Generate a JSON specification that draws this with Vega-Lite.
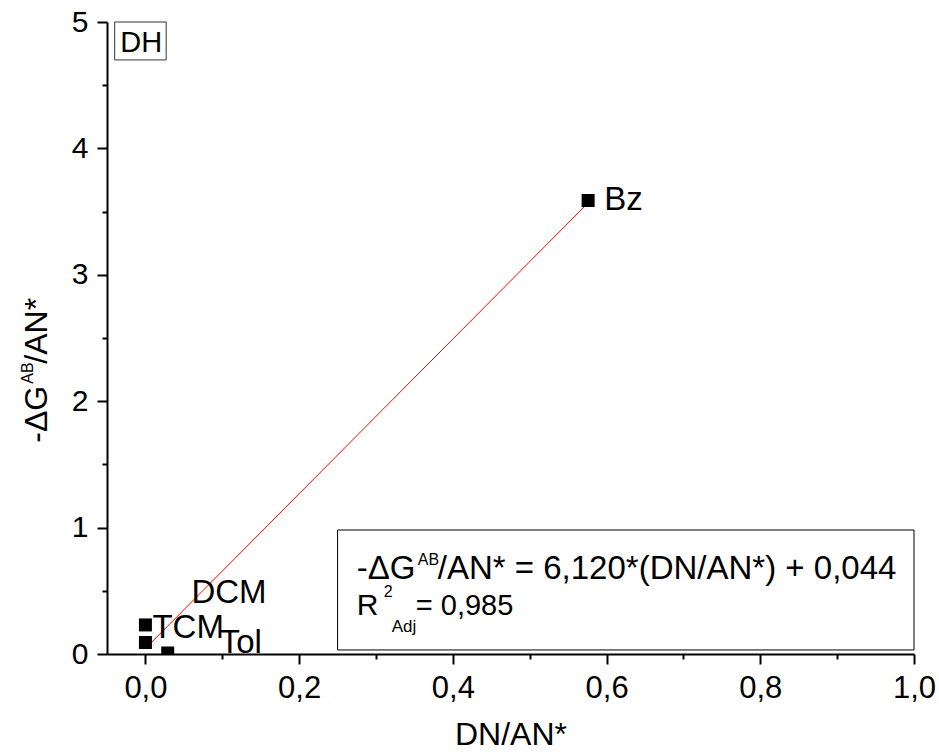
{
  "$schema": "https://vega.github.io/schema/vega-lite/v6.json",
  "width": 807,
  "height": 632,
  "autosize": "none",
  "padding": {"left": 107, "top": 22, "right": 25, "bottom": 98},
  "background": "white",
  "config": {"view": {"stroke": null}, "font": "Liberation Sans", "text": {"font": "Liberation Sans", "color": "black"}},
  "datasets": {
    "solvents": [
      {"solvent": "Bz", "dn": 0.576, "g": 3.588},
      {"solvent": "DCM", "dn": 0.0, "g": 0.23},
      {"solvent": "TCM", "dn": 0.0, "g": 0.091},
      {"solvent": "Tol", "dn": 0.029, "g": 0.008}
    ],
    "fit": [
      {"dn": 0.0, "g": 0.044},
      {"dn": 0.576, "g": 3.569}
    ],
    "one": [{}]
  },
  "layer": [
    {
      "data": {"name": "fit"},
      "mark": {"type": "line", "color": "#ff0000", "strokeWidth": 1},
      "encoding": {
        "x": {
          "field": "dn", "type": "quantitative",
          "scale": {"domain": [-0.05, 1.0], "nice": false, "zero": false},
          "axis": {
            "title": "DN/AN*",
            "values": [0, 0.1, 0.2, 0.3, 0.4, 0.5, 0.6, 0.7, 0.8, 0.9, 1.0],
            "labelExpr": "abs(datum.value*5 - round(datum.value*5)) < 0.001 ? replace(format(datum.value, '.1f'), '.', ',') : ''",
            "tickSize": {"condition": {"test": "abs(datum.value*5 - round(datum.value*5)) < 0.001", "value": 10}, "value": 5},
            "tickWidth": 2, "tickColor": "black",
            "domainWidth": 2, "domainColor": "black",
            "labelColor": "black", "labelFontSize": 31, "labelFont": "Liberation Sans", "labelPadding": 9,
            "labelFlush": false, "labelOverlap": false,
            "titleFontSize": 32, "titleFont": "Liberation Sans", "titleFontWeight": "normal", "titleColor": "black",
            "titleY": 90, "titleBaseline": "alphabetic",
            "grid": false, "zindex": 1
          }
        },
        "y": {
          "field": "g", "type": "quantitative",
          "scale": {"domain": [0, 5], "nice": false, "zero": false},
          "axis": {
            "title": null,
            "values": [0, 0.5, 1, 1.5, 2, 2.5, 3, 3.5, 4, 4.5, 5],
            "labelExpr": "abs(datum.value - round(datum.value)) < 0.001 ? format(datum.value, 'd') : ''",
            "tickSize": {"condition": {"test": "abs(datum.value - round(datum.value)) < 0.001", "value": 10}, "value": 5},
            "tickWidth": 2, "tickColor": "black",
            "domainWidth": 2, "domainColor": "black",
            "labelColor": "black", "labelFontSize": 30, "labelFont": "Liberation Sans", "labelPadding": 9,
            "labelFlush": false, "labelOverlap": false,
            "grid": false, "zindex": 1
          }
        }
      }
    },
    {
      "data": {"name": "solvents"},
      "mark": {"type": "square", "size": 169, "color": "black", "opacity": 1, "clip": true},
      "encoding": {
        "x": {"field": "dn", "type": "quantitative", "scale": {"domain": [-0.05, 1.0], "nice": false, "zero": false}},
        "y": {"field": "g", "type": "quantitative", "scale": {"domain": [0, 5], "nice": false, "zero": false}}
      }
    },
    {
      "data": {"name": "solvents"},
      "transform": [{"filter": "datum.solvent == 'Bz'"}],
      "mark": {"type": "text", "fontSize": 33, "align": "left", "baseline": "middle", "dx": 16, "dy": 0},
      "encoding": {
        "x": {"field": "dn", "type": "quantitative", "scale": {"domain": [-0.05, 1.0], "nice": false, "zero": false}},
        "y": {"field": "g", "type": "quantitative", "scale": {"domain": [0, 5], "nice": false, "zero": false}},
        "text": {"field": "solvent"}
      }
    },
    {
      "data": {"name": "solvents"},
      "transform": [{"filter": "datum.solvent == 'DCM'"}],
      "mark": {"type": "text", "fontSize": 33, "align": "left", "baseline": "middle", "dx": 46, "dy": -32},
      "encoding": {
        "x": {"field": "dn", "type": "quantitative", "scale": {"domain": [-0.05, 1.0], "nice": false, "zero": false}},
        "y": {"field": "g", "type": "quantitative", "scale": {"domain": [0, 5], "nice": false, "zero": false}},
        "text": {"field": "solvent"}
      }
    },
    {
      "data": {"name": "solvents"},
      "transform": [{"filter": "datum.solvent == 'TCM'"}],
      "mark": {"type": "text", "fontSize": 33, "align": "left", "baseline": "middle", "dx": 7, "dy": -14},
      "encoding": {
        "x": {"field": "dn", "type": "quantitative", "scale": {"domain": [-0.05, 1.0], "nice": false, "zero": false}},
        "y": {"field": "g", "type": "quantitative", "scale": {"domain": [0, 5], "nice": false, "zero": false}},
        "text": {"field": "solvent"}
      }
    },
    {
      "data": {"name": "solvents"},
      "transform": [{"filter": "datum.solvent == 'Tol'"}],
      "mark": {"type": "text", "fontSize": 33, "align": "left", "baseline": "middle", "dx": 52, "dy": -10},
      "encoding": {
        "x": {"field": "dn", "type": "quantitative", "scale": {"domain": [-0.05, 1.0], "nice": false, "zero": false}},
        "y": {"field": "g", "type": "quantitative", "scale": {"domain": [0, 5], "nice": false, "zero": false}},
        "text": {"field": "solvent"}
      }
    },
    {
      "data": {"name": "one"},
      "mark": {"type": "rect", "fill": "white", "stroke": "black", "strokeWidth": 1},
      "encoding": {
        "x": {"datum": 0.25, "type": "quantitative", "scale": {"domain": [-0.05, 1.0], "nice": false, "zero": false}},
        "x2": {"datum": 1.0},
        "y": {"datum": 0.981, "type": "quantitative", "scale": {"domain": [0, 5], "nice": false, "zero": false}},
        "y2": {"datum": 0.032}
      }
    },
    {
      "data": {"name": "one"},
      "mark": {"type": "text", "fontSize": 33, "align": "left", "baseline": "alphabetic", "text": "-ΔG"},
      "encoding": {
        "x": {"datum": 0.275, "type": "quantitative", "scale": {"domain": [-0.05, 1.0], "nice": false, "zero": false}},
        "y": {"datum": 0.593, "type": "quantitative", "scale": {"domain": [0, 5], "nice": false, "zero": false}}
      }
    },
    {
      "data": {"name": "one"},
      "mark": {"type": "text", "fontSize": 16, "align": "left", "baseline": "alphabetic", "text": "AB", "dx": 61, "dy": -14},
      "encoding": {
        "x": {"datum": 0.275, "type": "quantitative", "scale": {"domain": [-0.05, 1.0], "nice": false, "zero": false}},
        "y": {"datum": 0.593, "type": "quantitative", "scale": {"domain": [0, 5], "nice": false, "zero": false}}
      }
    },
    {
      "data": {"name": "one"},
      "mark": {"type": "text", "fontSize": 33, "align": "left", "baseline": "alphabetic", "text": "/AN* = 6,120*(DN/AN*) + 0,044", "dx": 81},
      "encoding": {
        "x": {"datum": 0.275, "type": "quantitative", "scale": {"domain": [-0.05, 1.0], "nice": false, "zero": false}},
        "y": {"datum": 0.593, "type": "quantitative", "scale": {"domain": [0, 5], "nice": false, "zero": false}}
      }
    },
    {
      "data": {"name": "one"},
      "mark": {"type": "text", "fontSize": 30, "align": "left", "baseline": "alphabetic", "text": "R"},
      "encoding": {
        "x": {"datum": 0.275, "type": "quantitative", "scale": {"domain": [-0.05, 1.0], "nice": false, "zero": false}},
        "y": {"datum": 0.309, "type": "quantitative", "scale": {"domain": [0, 5], "nice": false, "zero": false}}
      }
    },
    {
      "data": {"name": "one"},
      "mark": {"type": "text", "fontSize": 16, "align": "left", "baseline": "alphabetic", "text": "2", "dx": 27, "dy": -18},
      "encoding": {
        "x": {"datum": 0.275, "type": "quantitative", "scale": {"domain": [-0.05, 1.0], "nice": false, "zero": false}},
        "y": {"datum": 0.309, "type": "quantitative", "scale": {"domain": [0, 5], "nice": false, "zero": false}}
      }
    },
    {
      "data": {"name": "one"},
      "mark": {"type": "text", "fontSize": 17, "align": "left", "baseline": "alphabetic", "text": "Adj", "dx": 35, "dy": 17},
      "encoding": {
        "x": {"datum": 0.275, "type": "quantitative", "scale": {"domain": [-0.05, 1.0], "nice": false, "zero": false}},
        "y": {"datum": 0.309, "type": "quantitative", "scale": {"domain": [0, 5], "nice": false, "zero": false}}
      }
    },
    {
      "data": {"name": "one"},
      "mark": {"type": "text", "fontSize": 29, "align": "left", "baseline": "alphabetic", "text": "= 0,985", "dx": 59},
      "encoding": {
        "x": {"datum": 0.275, "type": "quantitative", "scale": {"domain": [-0.05, 1.0], "nice": false, "zero": false}},
        "y": {"datum": 0.309, "type": "quantitative", "scale": {"domain": [0, 5], "nice": false, "zero": false}}
      }
    },
    {
      "data": {"name": "one"},
      "mark": {"type": "rect", "fill": "white", "stroke": "#333333", "strokeWidth": 1},
      "encoding": {
        "x": {"datum": -0.040, "type": "quantitative", "scale": {"domain": [-0.05, 1.0], "nice": false, "zero": false}},
        "x2": {"datum": 0.027},
        "y": {"datum": 5.0, "type": "quantitative", "scale": {"domain": [0, 5], "nice": false, "zero": false}},
        "y2": {"datum": 4.70}
      }
    },
    {
      "data": {"name": "one"},
      "mark": {"type": "text", "fontSize": 29, "align": "left", "baseline": "alphabetic", "text": "DH"},
      "encoding": {
        "x": {"datum": -0.0326, "type": "quantitative", "scale": {"domain": [-0.05, 1.0], "nice": false, "zero": false}},
        "y": {"datum": 4.763, "type": "quantitative", "scale": {"domain": [0, 5], "nice": false, "zero": false}}
      }
    },
    {
      "data": {"name": "one"},
      "mark": {"type": "text", "fontSize": 32, "align": "left", "baseline": "alphabetic", "angle": 270, "text": "-ΔG"},
      "encoding": {
        "x": {"datum": -0.1276, "type": "quantitative", "scale": {"domain": [-0.05, 1.0], "nice": false, "zero": false}},
        "y": {"datum": 1.672, "type": "quantitative", "scale": {"domain": [0, 5], "nice": false, "zero": false}}
      }
    },
    {
      "data": {"name": "one"},
      "mark": {"type": "text", "fontSize": 16, "align": "left", "baseline": "alphabetic", "angle": 270, "text": "AB", "dx": 59, "dy": -14},
      "encoding": {
        "x": {"datum": -0.1276, "type": "quantitative", "scale": {"domain": [-0.05, 1.0], "nice": false, "zero": false}},
        "y": {"datum": 1.672, "type": "quantitative", "scale": {"domain": [0, 5], "nice": false, "zero": false}}
      }
    },
    {
      "data": {"name": "one"},
      "mark": {"type": "text", "fontSize": 32, "align": "left", "baseline": "alphabetic", "angle": 270, "text": "/AN*", "dx": 79},
      "encoding": {
        "x": {"datum": -0.1276, "type": "quantitative", "scale": {"domain": [-0.05, 1.0], "nice": false, "zero": false}},
        "y": {"datum": 1.672, "type": "quantitative", "scale": {"domain": [0, 5], "nice": false, "zero": false}}
      }
    }
  ]
}
